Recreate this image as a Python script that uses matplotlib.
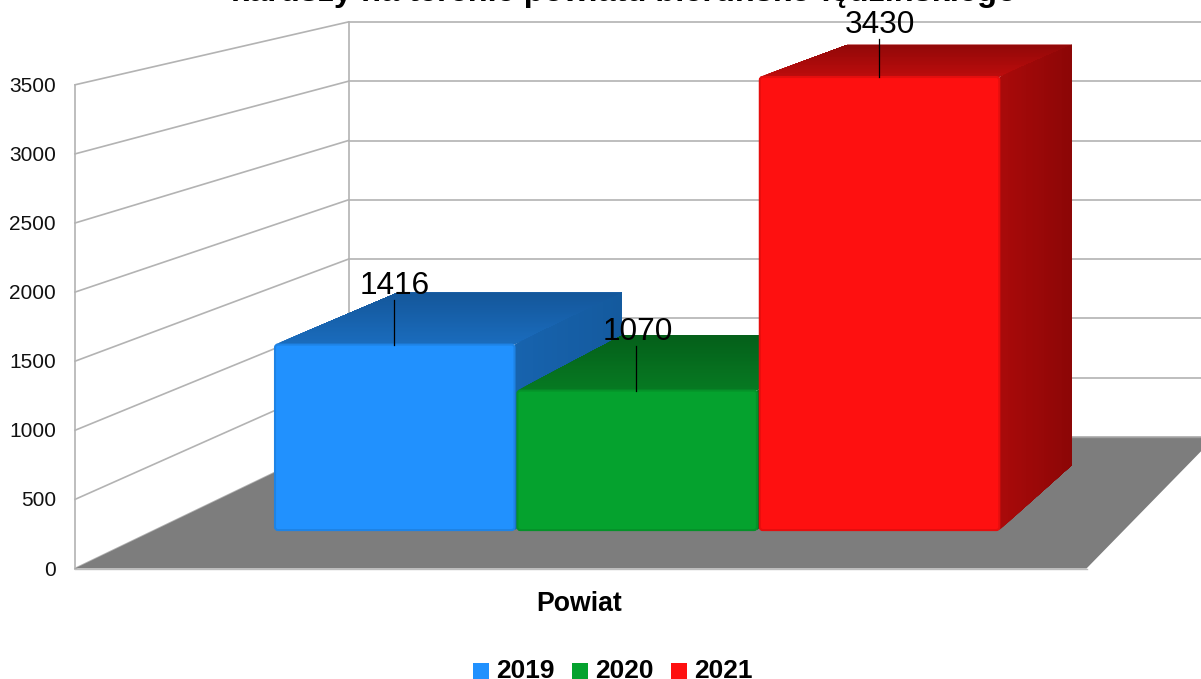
import numpy as np
import matplotlib
matplotlib.use("Agg")
import matplotlib.pyplot as plt
from matplotlib.patches import Polygon, FancyBboxPatch
from matplotlib.colors import to_rgb

plt.rcParams['font.family'] = ['Liberation Sans', 'DejaVu Sans']

# ---- data ----
title_text = "karuszy na terenie powiatu bieruńsko-lędzińskiego"
category = "Powiat"
years = ["2019", "2020", "2021"]
values = [1416, 1070, 3430]
front_colors = ["#2191fe", "#05a22e", "#fe1010"]
top_front = ["#1a6cbd", "#067a22", "#bd0c0c"]
top_back = ["#14579b", "#05601a", "#920808"]
side_front = ["#1763ae", "#06701f", "#aa0a0a"]
side_back = ["#145a9e", "#05601a", "#8c0606"]
tick_values = [0, 500, 1000, 1500, 2000, 2500, 3000, 3500]

# ---- oblique projection of (slot, depth, value) onto the picture ----
FX0, FY0, FS = 75.0, 568.5, 0.1382      # front of the floor
BX0, BY0, BS = 348.5, 437.0, 0.1186     # back of the floor
D_FRONT, D_BACK = 0.272, 0.77           # depth of bars
BAR_FOOT = 20                           # bars stand slightly above the floor plane


def wall(depth, v):
    return FX0 + (BX0 - FX0) * depth, FY0 + (BY0 - FY0) * depth - v * (FS + (BS - FS) * depth)


def bar(slot, depth, v, right=False):
    f = (depth - D_FRONT) / (D_BACK - D_FRONT)
    x0 = 275.0 + 242.4 * slot + (239.5 if right else 0.0)
    x1 = 397.0 + 225.0 * slot + (225.0 if right else 0.0)
    _, y = wall(depth, v)
    return x0 + (x1 - x0) * f, y


def mix(a, b, t):
    a, b = np.array(to_rgb(a)), np.array(to_rgb(b))
    return tuple(a + (b - a) * t)


fig = plt.figure(figsize=(12.01, 6.79), dpi=100, facecolor="white")
ax = fig.add_axes([0, 0, 1, 1])
ax.set_xlim(0, 1201)
ax.set_ylim(679, 0)
ax.axis("off")

GRID = "#b3b3b3"
# walls
for v in tick_values:
    p0, p1 = wall(0, v), wall(1, v)
    ax.plot([p0[0], p1[0]], [p0[1], p1[1]], color=GRID, lw=1.2, zorder=1)
    ax.plot([p1[0], 1201], [p1[1], p1[1]], color=GRID, lw=1.2, zorder=1)
    ax.text(56, p0[1] + 1.5, str(v), ha="right", va="center", fontsize=15, color="#111111")
top = tick_values[-1]
ax.plot([wall(0, 0)[0]] * 2, [wall(0, 0)[1], wall(0, top)[1]], color=GRID, lw=1.2, zorder=1)
ax.plot([wall(1, 0)[0]] * 2, [wall(1, 0)[1], wall(1, top)[1]], color=GRID, lw=1.2, zorder=1)

# floor
ax.add_patch(Polygon([wall(0, 0), (1086.5, wall(0, 0)[1]), (1215, wall(1, 0)[1]), wall(1, 0)],
                     closed=True, fc="#7d7d7d", ec="none", zorder=2))
ax.plot([wall(0, 0)[0], 1086.5], [wall(0, 0)[1]] * 2, color="#bdbdbd", lw=1, zorder=2)
ax.plot([wall(1, 0)[0], 1201], [wall(1, 0)[1]] * 2, color="#a0a0a0", lw=1, zorder=2)

# bars
N = 40
for i, v in enumerate(values):
    z = 3 + i
    for k in range(N):
        # every strip runs to the back, the next one paints over it: no seams
        d0 = D_FRONT + (D_BACK - D_FRONT) * k / N
        c = mix(top_front[i], top_back[i], k / (N - 1))
        pts = [bar(i, d0, v), bar(i, d0, v, True), bar(i, D_BACK, v, True), bar(i, D_BACK, v)]
        ax.add_patch(Polygon(pts, closed=True, fc=c, ec="none", zorder=z))
    for k in range(N):
        d0 = D_FRONT + (D_BACK - D_FRONT) * k / N
        c = mix(side_front[i], side_back[i], k / (N - 1))
        pts = [bar(i, d0, v, True), bar(i, D_BACK, v, True),
               bar(i, D_BACK, BAR_FOOT, True), bar(i, d0, BAR_FOOT, True)]
        ax.add_patch(Polygon(pts, closed=True, fc=c, ec="none", zorder=z))
    # front face with softly rounded, slightly darker rim
    xl, yb = bar(i, D_FRONT, BAR_FOOT)
    xr, yt = bar(i, D_FRONT, v, True)
    ax.add_patch(FancyBboxPatch((xl, yt), xr - xl, yb - yt,
                                boxstyle="round,pad=0,rounding_size=3",
                                fc=front_colors[i], ec=mix(front_colors[i], "#000000", 0.1),
                                lw=1.5, zorder=z + 0.5))

# value labels and leader lines
for i, v in enumerate(values):
    xl, yt = bar(i, D_FRONT, v)
    xc = xl + 119
    yc = max(yt - 62, 22)
    ax.plot([xc, xc], [yt, yc + 17], color="black", lw=0.9, zorder=10)
    ax.text(xc + 1, yc + 3, str(v), ha="center", va="center", fontsize=22.7,
            color="black", zorder=11)

# title (cut by the top of the picture, as in the source)
ax.text(624, 1.5, title_text, ha="center", va="baseline", fontsize=23.4, fontweight="bold",
        color="black", clip_on=False)
ax.text(579.5, 604, category, ha="center", va="center", fontsize=19.2, fontweight="bold", color="black")

# legend
lx = [473, 572, 671]
for x, y, c in zip(lx, years, front_colors):
    ax.add_patch(Polygon([(x, 663), (x + 16, 663), (x + 16, 679), (x, 679)], closed=True, fc=c, ec="none"))
    ax.text(x + 23.5, 671, y, ha="left", va="center", fontsize=19, fontweight="bold", color="black")

fig.savefig("out.png", dpi=100)
